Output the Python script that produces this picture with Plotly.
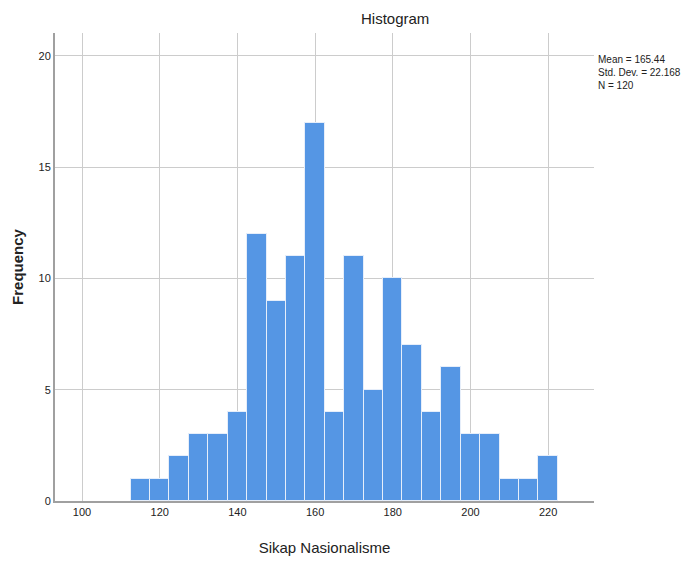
import plotly.graph_objects as go

bin_centers = [115, 120, 125, 130, 135, 140, 145, 150, 155, 160, 165,
               170, 175, 180, 185, 190, 195, 200, 205, 210, 215, 220]
frequency = [1, 1, 2, 3, 3, 4, 12, 9, 11, 17, 4,
             11, 5, 10, 7, 4, 6, 3, 3, 1, 1, 2]
bin_width = 5
stats_text = "Mean = 165.44<br>Std. Dev. = 22.168<br>N = 120"

FONT = "Liberation Sans, Arial, sans-serif"

W, H = 686, 563
L, T, R, B = 55, 33, 92, 62
plot_w = W - L - R
plot_h = H - T - B

fig = go.Figure()
fig.add_trace(go.Bar(
    x=bin_centers, y=frequency, width=[bin_width] * len(bin_centers),
    marker=dict(color="#5596e4", line=dict(color="#e6eefa", width=1)),
    showlegend=False, hoverinfo="x+y",
))

fig.update_layout(
    width=W, height=H,
    margin=dict(l=L, r=R, t=T, b=B, autoexpand=False),
    paper_bgcolor="white", plot_bgcolor="white",
    font=dict(family=FONT, color="#222222", size=11),
    bargap=0,
    xaxis=dict(
        range=[93.05, 231.8], tickvals=[100, 120, 140, 160, 180, 200, 220],
        showgrid=True, gridcolor="#cccccc", gridwidth=1,
        showline=True, linecolor="#a0a0a0", linewidth=2,
        ticks="", zeroline=False,
        tickfont=dict(size=11, color="#222222"),
        title=dict(text="Sikap Nasionalisme", font=dict(size=15, color="#222222"), standoff=25),
    ),
    yaxis=dict(
        range=[0, 21.03], tickvals=[0, 5, 10, 15, 20],
        showgrid=True, gridcolor="#cccccc", gridwidth=1,
        showline=True, linecolor="#a0a0a0", linewidth=2,
        ticks="", zeroline=False,
        tickfont=dict(size=11, color="#222222"),
        title=dict(text="<b>Frequency</b>", font=dict(size=15, color="#222222"), standoff=11),
    ),
    annotations=[
        dict(text="Histogram", x=340 / plot_w, y=1 + 15 / plot_h, xref="paper", yref="paper",
             showarrow=False, font=dict(size=15, color="#222222"),
             xanchor="center", yanchor="middle"),
        dict(text=stats_text, x=1 + 2 / plot_w, y=1 - 19 / plot_h, xref="paper", yref="paper",
             showarrow=False, align="left", xanchor="left", yanchor="top",
             font=dict(size=10, color="#222222")),
    ],
)

fig.write_html(
    "out.html",
    config={"displayModeBar": False},
    post_script="document.body.style.margin='0';document.body.style.overflow='hidden';",
)
